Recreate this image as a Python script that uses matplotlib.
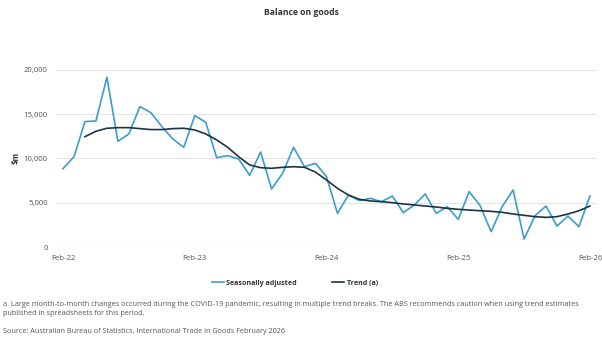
import matplotlib
matplotlib.use("Agg")
import matplotlib.pyplot as plt
from matplotlib.lines import Line2D

plt.rcParams["font.family"] = ["Open Sans", "DejaVu Sans"]

# Monthly balance on goods, $m, Feb-22 to Feb-26

tick_labels = ["Feb-22", "Feb-23", "Feb-24", "Feb-25", "Feb-26"]

seasonally_adjusted = [
    8850, 10200, 14160, 14240, 19170, 11940, 12770, 15860, 15180, 13600,
    12200, 11260, 14840, 14090, 10090, 10320, 9940, 8100, 10730, 6550,
    8320, 11260, 9070, 9450, 7950, 3800, 5870, 5240, 5500, 5120,
    5760, 3880, 4750, 5990, 3800, 4560, 3130, 6250, 4670, 1730,
    4560, 6440, 900, 3540, 4630, 2370, 3500, 2300, 5760,
]

# Trend series begins in Apr-22
trend_start = 2
trend = [
    12460, 13070, 13410, 13480, 13480, 13370, 13260, 13260, 13370, 13410,
    13220, 12770, 12090, 11260, 10200, 9270, 8960, 8890, 9000, 9070,
    9000, 8460, 7570, 6630, 5870, 5390, 5200, 5120, 5010, 4860,
    4750, 4630, 4520, 4370, 4260, 4180, 4100, 4030, 3920, 3730,
    3580, 3430, 3350, 3430, 3730, 4100, 4630,
]

sa_color = "#3c9ccb"
trend_color = "#1b3447"
text_color = "#555555"

fig = plt.figure(figsize=(6.02, 3.46), dpi=100)
ax = fig.add_axes([0.093, 0.286, 0.897, 0.512])

months = list(range(len(seasonally_adjusted)))
trend_months = list(range(trend_start, trend_start + len(trend)))

ax.plot(months, seasonally_adjusted, color=sa_color, linewidth=1.2)
ax.plot(trend_months, trend, color=trend_color, linewidth=1.2)

ax.set_xlim(-0.64, 48.55)
ax.set_ylim(0, 20000)
ax.set_yticks([0, 5000, 10000, 15000, 20000])
ax.set_yticklabels(["0", "5,000", "10,000", "15,000", "20,000"])
ax.set_xticks([0, 12, 24, 36, 48])
ax.set_xticklabels(tick_labels)

ax.grid(axis="y", color="#e4e4e4", linewidth=0.8)
ax.set_axisbelow(True)
for side in ["top", "right", "left", "bottom"]:
    ax.spines[side].set_visible(False)
ax.tick_params(axis="both", length=0, labelsize=5.6, colors=text_color)
ax.tick_params(axis="y", pad=6)
ax.tick_params(axis="x", pad=6)

fig.text(0.026, 0.543, "$m", rotation=90, ha="center", va="center",
         fontsize=5.6, fontweight="bold", color="#333333")

fig.text(0.5, 0.965, "Balance on goods", ha="center", va="center",
         fontsize=6.2, fontweight="bold", color="#333333")

handles = [
    Line2D([0], [0], color=sa_color, linewidth=1.2),
    Line2D([0], [0], color=trend_color, linewidth=1.2),
]
fig.legend(handles, ["Seasonally adjusted", "Trend (a)"],
           loc="center", bbox_to_anchor=(0.49, 0.182), ncol=2, frameon=False,
           handlelength=1.6, handletextpad=0.4, columnspacing=5.0,
           labelcolor="#333333",
           prop={"weight": "bold", "size": 5.1})

fig.text(0.005, 0.121,
         "a. Large month-to-month changes occurred during the COVID-19 pandemic, "
         "resulting in multiple trend breaks. The ABS recommends caution when using trend estimates",
         fontsize=5.25, color=text_color, va="center")
fig.text(0.005, 0.095, "published in spreadsheets for this period.",
         fontsize=5.25, color=text_color, va="center")
fig.text(0.005, 0.043,
         "Source: Australian Bureau of Statistics, International Trade in Goods February 2026",
         fontsize=5.25, color=text_color, va="center")

fig.savefig("out.png", dpi=100)
